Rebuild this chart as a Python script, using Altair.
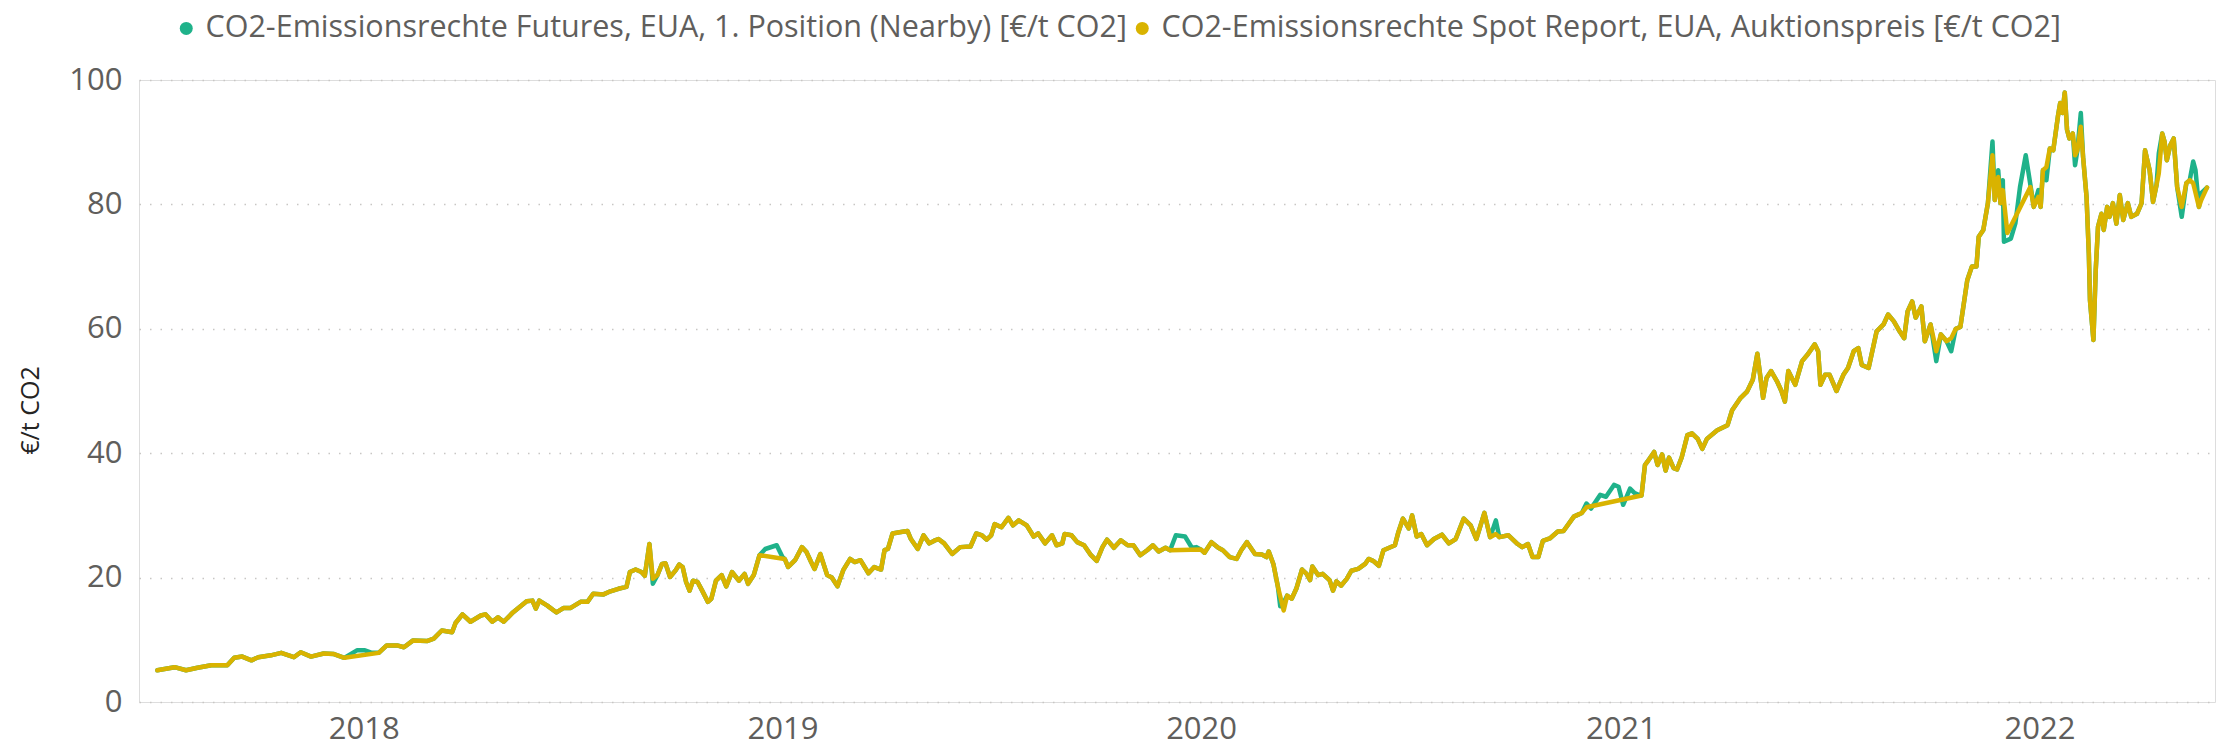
import altair as alt
import pandas as pd

FONT = "Open Sans"
LABEL_F = "CO2-Emissionsrechte Futures, EUA, 1. Position (Nearby) [€/t CO2]"
LABEL_S = "CO2-Emissionsrechte Spot Report, EUA, Auktionspreis [€/t CO2]"
TEAL = "#1FB28A"
GOLD = "#D9B300"

# points shared by both series
common_dates = [
    "2017-07-05", "2017-07-20", "2017-07-30", "2017-08-09", "2017-08-21", "2017-09-04", "2017-09-10",
    "2017-09-17", "2017-09-25", "2017-10-01", "2017-10-12", "2017-10-21", "2017-11-01", "2017-11-07",
    "2017-11-16", "2017-11-27", "2017-12-06", "2017-12-15",
    "2018-01-14", "2018-01-21", "2018-01-30", "2018-02-05", "2018-02-13", "2018-02-25", "2018-03-03",
    "2018-03-10", "2018-03-19", "2018-03-22", "2018-03-28", "2018-04-04", "2018-04-13", "2018-04-17",
    "2018-04-23", "2018-04-28", "2018-05-03", "2018-05-11", "2018-05-23", "2018-05-28", "2018-05-31",
    "2018-06-03", "2018-06-10", "2018-06-18", "2018-06-24", "2018-06-30", "2018-07-09", "2018-07-15",
    "2018-07-20", "2018-07-29", "2018-08-04", "2018-08-11", "2018-08-18", "2018-08-21", "2018-08-26",
    "2018-08-31", "2018-09-03", "2018-09-07",
    "2018-09-14", "2018-09-18", "2018-09-21", "2018-09-25", "2018-09-30", "2018-10-03", "2018-10-06",
    "2018-10-09", "2018-10-12", "2018-10-15", "2018-10-19", "2018-10-23", "2018-10-28", "2018-10-31",
    "2018-11-04", "2018-11-09", "2018-11-13", "2018-11-18", "2018-11-24", "2018-11-29", "2018-12-02",
    "2018-12-07", "2018-12-12",
    "2019-01-03", "2019-01-06", "2019-01-12", "2019-01-18", "2019-01-22", "2019-01-26", "2019-01-29",
    "2019-02-03", "2019-02-09", "2019-02-13", "2019-02-18", "2019-02-23", "2019-03-01", "2019-03-05",
    "2019-03-10", "2019-03-17", "2019-03-22", "2019-03-28", "2019-03-31", "2019-04-03", "2019-04-07",
    "2019-04-13", "2019-04-20", "2019-04-23", "2019-04-29", "2019-05-04", "2019-05-09", "2019-05-13",
    "2019-05-17", "2019-05-22", "2019-05-29", "2019-06-05", "2019-06-14", "2019-06-19", "2019-06-24",
    "2019-06-28", "2019-07-02", "2019-07-05", "2019-07-11", "2019-07-17", "2019-07-21", "2019-07-26",
    "2019-08-02", "2019-08-08", "2019-08-12", "2019-08-18", "2019-08-24", "2019-08-28", "2019-09-02",
    "2019-09-04", "2019-09-10", "2019-09-15", "2019-09-21", "2019-09-27", "2019-10-02", "2019-10-07",
    "2019-10-11", "2019-10-17", "2019-10-23", "2019-10-29", "2019-11-03", "2019-11-09", "2019-11-15",
    "2019-11-20", "2019-11-25", "2019-12-01", "2019-12-05",
    "2020-01-01", "2020-01-04", "2020-01-10", "2020-01-16", "2020-01-20", "2020-01-26", "2020-02-01",
    "2020-02-05", "2020-02-10", "2020-02-17", "2020-02-23", "2020-02-27", "2020-02-29", "2020-03-04",
    "2020-03-08",
    "2020-03-16", "2020-03-20", "2020-03-24", "2020-03-29", "2020-04-02", "2020-04-05", "2020-04-07",
    "2020-04-12", "2020-04-16", "2020-04-22", "2020-04-25", "2020-04-28", "2020-05-02", "2020-05-07",
    "2020-05-11", "2020-05-17", "2020-05-23", "2020-05-26", "2020-05-30", "2020-06-04", "2020-06-08",
    "2020-06-13", "2020-06-18", "2020-06-21", "2020-06-25", "2020-06-30", "2020-07-03", "2020-07-07",
    "2020-07-11", "2020-07-16", "2020-07-22", "2020-07-29", "2020-08-04", "2020-08-10", "2020-08-17",
    "2020-08-23", "2020-08-28", "2020-09-04", "2020-09-09",
    "2020-09-17", "2020-09-25", "2020-10-03", "2020-10-07", "2020-10-12", "2020-10-16", "2020-10-21",
    "2020-10-25", "2020-10-31", "2020-11-07", "2020-11-12", "2020-11-21", "2020-11-28",
    "2021-01-19", "2021-01-22", "2021-01-24", "2021-01-30", "2021-02-02", "2021-02-06", "2021-02-09",
    "2021-02-12", "2021-02-16", "2021-02-19", "2021-02-23", "2021-02-28", "2021-03-04", "2021-03-09",
    "2021-03-13", "2021-03-17", "2021-03-26", "2021-04-04", "2021-04-08", "2021-04-15", "2021-04-21",
    "2021-04-26",
    "2021-04-30", "2021-05-05", "2021-05-08", "2021-05-12", "2021-05-17", "2021-05-21", "2021-05-24",
    "2021-05-27", "2021-06-02", "2021-06-08", "2021-06-13", "2021-06-19", "2021-06-22", "2021-06-24",
    "2021-06-28", "2021-07-02", "2021-07-08", "2021-07-14", "2021-07-18", "2021-07-23", "2021-07-27",
    "2021-07-30", "2021-08-05", "2021-08-12", "2021-08-18", "2021-08-22", "2021-08-27", "2021-09-01",
    "2021-09-05", "2021-09-08", "2021-09-12", "2021-09-15", "2021-09-20", "2021-09-23", "2021-09-28",
    "2021-10-07", "2021-10-12", "2021-10-20", "2021-10-24", "2021-10-30", "2021-11-03", "2021-11-07",
    "2021-11-09", "2021-11-13", "2021-11-17", "2021-11-23", "2021-11-28", "2021-12-27", "2022-01-02",
    "2022-01-04", "2022-01-10", "2022-01-13", "2022-01-17", "2022-01-19", "2022-01-21", "2022-01-23",
    "2022-01-25", "2022-01-27", "2022-01-30", "2022-02-03", "2022-02-08", "2022-02-11", "2022-02-13",
    "2022-02-14", "2022-02-17", "2022-02-19", "2022-02-21", "2022-02-24", "2022-02-26", "2022-03-01",
    "2022-03-03", "2022-03-06", "2022-03-09", "2022-03-12", "2022-03-15", "2022-03-19", "2022-03-22",
    "2022-03-27", "2022-03-31", "2022-04-03", "2022-04-07", "2022-04-10", "2022-04-13", "2022-04-18",
    "2022-04-20", "2022-04-22", "2022-04-25", "2022-04-28", "2022-05-01", "2022-05-09", "2022-05-12",
    "2022-05-20", "2022-05-27",
]
common_values = [
    5.1, 5.6, 5.1, 5.5, 5.9, 5.9, 7.1,
    7.3, 6.7, 7.2, 7.5, 7.9, 7.2, 8.0,
    7.3, 7.8, 7.7, 7.1,
    7.9, 9.1, 9.1, 8.8, 9.9, 9.8, 10.2,
    11.5, 11.2, 12.7, 14.1, 12.9, 13.9, 14.1,
    12.9, 13.6, 12.9, 14.4, 16.2, 16.3, 15.0,
    16.3, 15.5, 14.4, 15.1, 15.1, 16.1, 16.1,
    17.4, 17.3, 17.8, 18.2, 18.5, 20.9, 21.3,
    20.9, 20.3, 25.4,
    20.4, 22.2, 22.3, 20.1, 21.2, 22.1, 21.7,
    19.3, 17.9, 19.5, 19.3, 17.9, 16.1, 16.6,
    19.5, 20.4, 18.6, 20.9, 19.5, 20.6, 19.0,
    20.4, 23.6,
    23.0, 21.7, 22.8, 24.9, 24.1, 22.5, 21.4,
    23.8, 20.4, 20.0, 18.6, 21.2, 23.0, 22.5,
    22.8, 20.7, 21.7, 21.3, 24.4, 24.6, 27.1,
    27.3, 27.5, 26.2, 24.6, 26.8, 25.5, 25.9,
    26.2, 25.5, 23.8, 24.9, 25.0, 27.1, 26.8,
    26.1, 26.8, 28.6, 28.1, 29.6, 28.4, 29.2,
    28.4, 26.6, 27.1, 25.5, 26.8, 25.2, 25.5,
    27.0, 26.8, 25.7, 25.2, 23.6, 22.7, 24.9,
    26.1, 24.8, 26.0, 25.2, 25.2, 23.6, 24.4,
    25.2, 24.2, 24.8, 24.4,
    24.5, 24.0, 25.7, 24.8, 24.4, 23.3, 23.0,
    24.4, 25.7, 23.8, 23.7, 23.3, 24.2, 22.2,
    18.5,
    17.1, 16.6, 18.2, 21.3, 20.6, 19.6, 21.8,
    20.4, 20.6, 19.6, 17.9, 19.4, 18.7, 19.8,
    21.1, 21.4, 22.2, 23.0, 22.7, 21.9, 24.4,
    24.8, 25.2, 27.3, 29.5, 27.9, 30.0, 26.6,
    27.0, 25.2, 26.2, 26.9, 25.5, 26.2, 29.5,
    28.4, 26.2, 30.4, 26.5,
    26.5, 26.8, 25.4, 24.9, 25.4, 23.3, 23.3,
    25.9, 26.3, 27.4, 27.5, 29.8, 30.4,
    33.2, 38.1, 38.6, 40.2, 38.1, 39.8, 37.2,
    39.3, 37.6, 37.4, 39.3, 42.9, 43.2, 42.3,
    40.7, 42.3, 43.7, 44.5, 46.9, 48.8, 49.9,
    51.8,
    56.0, 48.9, 52.1, 53.2, 51.6, 50.0, 48.3,
    53.2, 51.0, 54.8, 55.9, 57.5, 56.4, 51.0,
    52.6, 52.6, 50.0, 52.6, 53.7, 56.4, 56.9,
    54.2, 53.7, 59.6, 60.7, 62.3, 61.2, 59.6,
    58.5, 62.8, 64.4, 61.8, 63.6, 58.0, 60.7,
    59.1, 58.0, 60.0, 60.3, 67.8, 70.0, 70.0,
    74.8, 75.9, 80.2, 80.7, 80.2, 79.6, 79.6,
    85.5, 89.0, 88.7, 94.1, 96.3, 94.7, 98.0,
    92.0, 90.6, 91.4, 88.7, 87.6, 81.2, 72.1,
    64.6, 58.2, 69.4, 76.4, 78.5, 75.9, 79.6,
    78.0, 80.2, 76.9, 81.5, 77.5, 80.2, 78.0,
    78.5, 80.2, 88.7, 85.5, 80.4, 83.1, 91.4,
    90.1, 87.1, 89.5, 90.6, 82.8, 83.4, 83.9,
    79.6, 82.7,
]

# points only in the futures series (spot auction gaps and divergences)
futures_only_dates = [
    "2017-12-26", "2018-01-02", "2018-01-08", "2018-09-10", "2018-12-17", "2018-12-27", "2019-01-01",
    "2019-12-10", "2019-12-18", "2019-12-24", "2019-12-28", "2020-03-10", "2020-03-13", "2020-09-14",
    "2020-12-02", "2020-12-06", "2020-12-14", "2020-12-19", "2020-12-26", "2020-12-30", "2021-01-03",
    "2021-01-09", "2021-01-13", "2021-01-18", "2021-10-03", "2021-10-16", "2021-11-21", "2021-11-26",
    "2021-11-30", "2021-12-01", "2021-12-07", "2021-12-11", "2021-12-15", "2021-12-20", "2021-12-23",
    "2021-12-31", "2022-01-07", "2022-02-01", "2022-02-06", "2022-04-15", "2022-05-05", "2022-05-15",
    "2022-05-17", "2022-05-22",
]
futures_only_values = [
    8.3, 8.3, 7.9, 19.0, 24.6, 25.2, 23.3,
    26.8, 26.6, 24.8, 24.9, 15.4, 16.0, 29.2,
    31.9, 31.1, 33.3, 33.0, 34.9, 34.6, 31.7,
    34.3, 33.6, 33.2, 54.8, 56.4, 90.1, 85.5,
    83.9, 74.0, 74.5, 77.0, 82.8, 87.9, 84.4,
    82.3, 83.9, 86.3, 94.7, 88.2, 78.0, 86.9,
    85.5, 81.8,
]

# points only in the spot series
spot_only_dates = [
    "2018-09-10", "2020-03-10", "2020-03-13", "2020-09-14", "2020-12-02", "2021-10-03", "2021-10-16",
    "2021-11-21", "2021-11-26", "2021-11-30", "2021-12-04", "2021-12-24", "2021-12-31", "2022-01-07",
    "2022-02-01", "2022-02-06", "2022-04-15", "2022-05-05", "2022-05-15", "2022-05-22",
]
spot_only_values = [
    19.8, 17.0, 14.7, 27.0, 31.3, 56.4, 58.5,
    87.9, 84.4, 82.3, 75.4, 82.8, 81.2, 86.0,
    87.9, 92.5, 85.0, 79.6, 83.4, 80.7,
]

fut = pd.DataFrame({"date": common_dates + futures_only_dates,
                    "value": common_values + futures_only_values}).sort_values("date")
fut["series"] = LABEL_F
spot = pd.DataFrame({"date": common_dates + spot_only_dates,
                     "value": common_values + spot_only_values}).sort_values("date")
spot["series"] = LABEL_S
df = pd.concat([fut, spot], ignore_index=True)
df["order"] = range(len(df))

# one row per series, only used to draw the legend (invisible points)
legend_df = pd.DataFrame({"date": [common_dates[0]] * 2, "value": [common_values[0]] * 2,
                          "series": [LABEL_F, LABEL_S]})

x_enc = alt.X(
    "date:T",
    scale=alt.Scale(type="utc", domain=[alt.DateTime(year=2017, month=6, date=19, utc=True),
                                        alt.DateTime(year=2022, month=6, date=3, utc=True)]),
    axis=alt.Axis(title=None, format="%Y",
                  values=[alt.DateTime(year=y, month=1, date=1, utc=True) for y in range(2018, 2023)],
                  grid=False, domain=False, ticks=False, tickSize=0,
                  labelFont=FONT, labelFontSize=31, labelColor="#605E5C",
                  labelPadding=27, labelBaseline="middle"),
)
y_enc = alt.Y(
    "value:Q",
    scale=alt.Scale(domain=[0, 100], nice=False, zero=True),
    axis=alt.Axis(title="€/t CO2", values=[0, 20, 40, 60, 80, 100],
                  domain=False, ticks=False, tickSize=0,
                  grid=True, gridColor="#C8C6C4", gridDash=[1.5, 9], gridWidth=1.5,
                  labelFont=FONT, labelFontSize=31, labelColor="#605E5C", labelPadding=17,
                  titleFont=FONT, titleFontSize=25, titleColor="#252423", titleFontWeight="normal",
                  titleAngle=270, titleX=-101, titleY=330, titleAlign="center",
                  titleBaseline="alphabetic"),
)
color_enc = alt.Color(
    "series:N",
    scale=alt.Scale(domain=[LABEL_F, LABEL_S], range=[TEAL, GOLD]),
    legend=alt.Legend(title=None, orient="none", legendX=32, legendY=-67,
                      direction="horizontal", symbolType="circle", symbolSize=169,
                      symbolStrokeWidth=0, symbolOpacity=1,
                      labelFont=FONT, labelFontSize=30.5, labelColor="#605E5C",
                      labelOffset=4, columnPadding=0, labelLimit=0, padding=0),
)

fut_line = alt.Chart(df).transform_filter(alt.datum.series == LABEL_F).mark_line(
    strokeWidth=4.5, strokeJoin="round", strokeCap="round", color=TEAL
).encode(x=x_enc, y=y_enc, order="order:Q")
spot_line = alt.Chart(df).transform_filter(alt.datum.series == LABEL_S).mark_line(
    strokeWidth=4.5, strokeJoin="round", strokeCap="round", color=GOLD
).encode(x=x_enc, y=y_enc, order="order:Q")
legend_layer = alt.Chart(legend_df).mark_circle(opacity=0, size=10).encode(
    x=x_enc, y=y_enc, color=color_enc
)

chart = alt.layer(fut_line, spot_line, legend_layer).properties(
    width=2076, height=622,
    padding={"left": 131, "top": 72, "right": 3, "bottom": 50},
    autosize=alt.AutoSizeParams(type="none"),
).configure_view(stroke=None).configure(font=FONT, background="white")

chart.save("out.html", embed_options={"renderer": "svg", "actions": False})
